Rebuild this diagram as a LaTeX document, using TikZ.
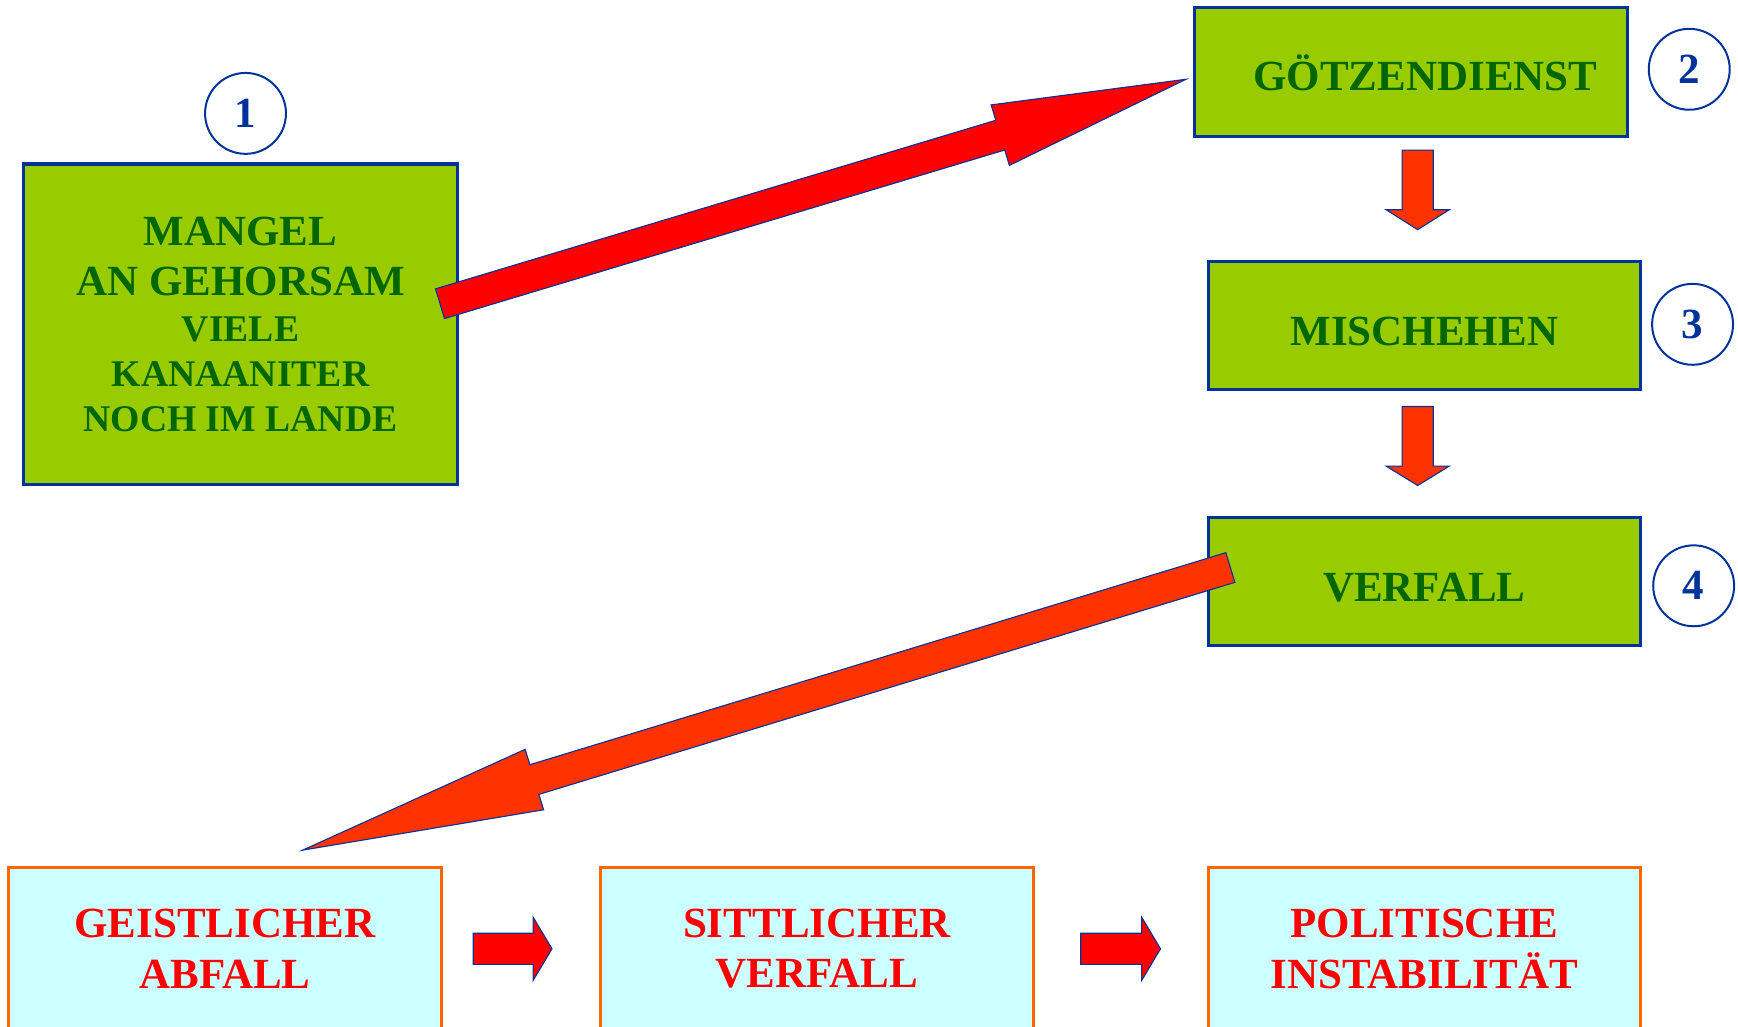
\documentclass[tikz,border=0pt]{standalone}
\usepackage{fontspec}
\setmainfont{Liberation Serif}
\usetikzlibrary{calc}
\definecolor{boxgreen}{HTML}{99CC00}
\definecolor{txtgreen}{HTML}{006600}
\definecolor{edgeblue}{HTML}{003399}
\definecolor{arrred}{HTML}{FF0000}
\definecolor{arrorange}{HTML}{FF3300}
\definecolor{boxcyan}{HTML}{CCFFFF}
\definecolor{edgeorange}{HTML}{FF6600}
\newcommand{\bigfont}{\fontsize{38.8}{45.5}\selectfont\bfseries}
\newcommand{\smallfont}{\fontsize{34}{41}\selectfont\bfseries}
\newcommand{\blockarrow}[4]{%
  \path ($(#3)!#4!(#2)$) coordinate (hb);
  \draw[fatarrow, fill=#1] ($(#2)!14pt!90:(#3)$) -- ($(hb)!14pt!90:(#3)$)
    -- ($(hb)!28.5pt!90:(#3)$) -- (#3) -- ($(hb)!28.5pt!-90:(#3)$)
    -- ($(hb)!14pt!-90:(#3)$) -- ($(#2)!14pt!-90:(#3)$) -- cycle;
}
\begin{document}
\begin{tikzpicture}[x=1pt, y=-1pt,
    greenbox/.style={draw=edgeblue, line width=2.8pt, fill=boxgreen, text=txtgreen, font=\bigfont,
      align=center, minimum width=390pt, minimum height=115pt, inner sep=0pt},
    cyanbox/.style={draw=edgeorange, line width=2.8pt, fill=boxcyan, text=arrred, font=\bigfont,
      align=center, minimum width=390pt, minimum height=146pt, inner sep=0pt},
    stepnum/.style={circle, draw=edgeblue, line width=1.8pt, text=edgeblue, font=\bigfont,
      minimum size=73pt, inner sep=0pt},
    fatarrow/.style={draw=edgeblue, line width=1pt, line join=miter}]
  \useasboundingbox (0,0) rectangle (1568,926);
  \clip (0,0) rectangle (1568,926);

  \node[greenbox, minimum width=391pt, minimum height=289.5pt] (mangel) at (217,292.75)
    {MANGEL\\AN GEHORSAM\\[-4.5pt]\smallfont VIELE\\[-4.5pt]\smallfont KANAANITER\\[-4.5pt]\smallfont NOCH IM LANDE};
  \node[greenbox, minimum height=116.5pt, text height=33pt] (goetzen) at (1273,65.25) {\hspace*{26pt}GÖTZENDIENST};
  \node[greenbox, text height=36pt] (misch) at (1285,293.5) {MISCHEHEN};
  \node[greenbox, text height=36pt] (verfall) at (1285,524.5) {VERFALL};

  \node[stepnum] (n1) at (221.5,102.3) {1};
  \node[stepnum] (n2) at (1524,62.5) {2};
  \node[stepnum] (n3) at (1527,292.6) {3};
  \node[stepnum] (n4) at (1528,528.5) {4};

  \node[cyanbox] (geist) at (203,856) {GEISTLICHER\\ABFALL};
  \node[cyanbox] (sitt) at (737,856) {SITTLICHER\\VERFALL};
  \node[cyanbox] (polit) at (1285,856) {POLITISCHE\\INSTABILITÄT};

  \coordinate (a1s) at (397,274);
  \coordinate (a1e) at (1070,71.5);
  \coordinate (a2s) at (1110,512);
  \coordinate (a2e) at (273,767);
  \coordinate (d1s) at (1279,135.4);
  \coordinate (d1e) at (1279,207.2);
  \coordinate (d2s) at (1279,366.7);
  \coordinate (d2e) at (1279,438);
  \coordinate (r1s) at (427,856);
  \coordinate (r1e) at (498,856);
  \coordinate (r2s) at (975,856);
  \coordinate (r2e) at (1047,856);

  \blockarrow{arrred}{a1s}{a1e}{175pt}
  \blockarrow{arrorange}{a2s}{a2e}{218.6pt}
  \blockarrow{arrorange}{d1s}{d1e}{18pt}
  \blockarrow{arrorange}{d2s}{d2e}{17.5pt}
  \blockarrow{arrred}{r1s}{r1e}{17pt}
  \blockarrow{arrred}{r2s}{r2e}{17pt}
\end{tikzpicture}
\end{document}
